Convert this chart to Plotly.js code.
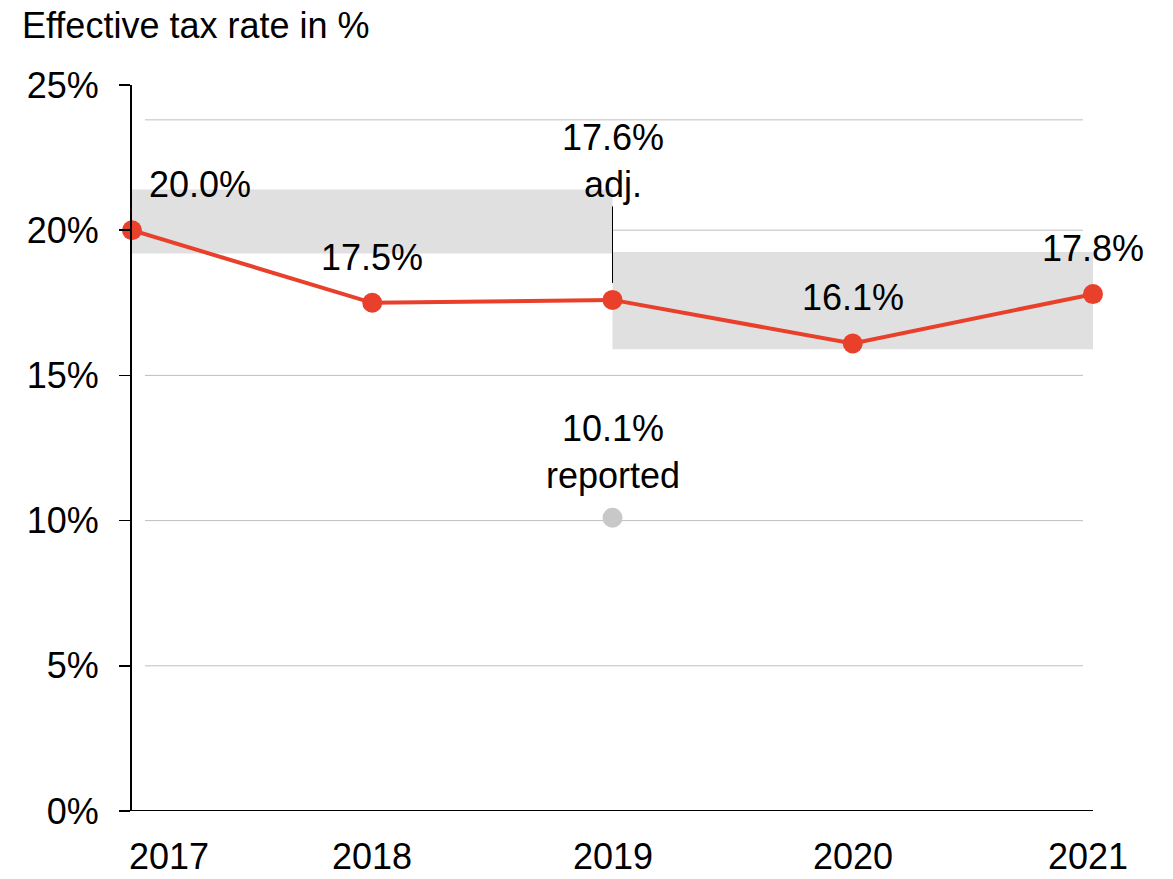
<!DOCTYPE html>
<html>
<head>
<meta charset="utf-8">
<script src="https://cdn.plot.ly/plotly-3.0.1.min.js"></script>
<style>
html,body{margin:0;padding:0;background:#fff;}
#chart{width:1173px;height:879px;}
</style>
</head>
<body>
<div id="chart"></div>
<script>
// ---- data ----
var years = [2017, 2018, 2019, 2020, 2021];
var yearLabels = ['2017', '2018', '2019', '2020', '2021'];
var adjustedRates = [20.0, 17.5, 17.6, 16.1, 17.8];
var adjustedLabels = ['20.0%', '17.5%', '17.6%<br>adj.', '16.1%', '17.8%'];
var reportedYears = [2019];
var reportedRates = [10.1];
var reportedLabels = ['10.1%<br>reported'];
var bandStart = [2017, 2019];
var bandEnd = [2019, 2021];
var bandLow = [19.2, 15.9];
var bandHigh = [21.4, 19.25];
var gridValues = [5, 10, 15, 20, 23.8];
var yTicks = [0, 5, 10, 15, 20, 25];
var yTickLabels = ['0%', '5%', '10%', '15%', '20%', '25%'];
var titleText = 'Effective tax rate in %';

// ---- styles ----
var FONT = '"Liberation Sans", Arial, sans-serif';
var RED = '#E8402A';
var GREY_DOT = '#C8C8C8';
var BAND = '#E0E0E0';
var GRID = '#BFBFBF';

var traces = [
  {
    x: years, y: adjustedRates, type: 'scatter', mode: 'lines+markers',
    line: {color: RED, width: 4},
    marker: {color: RED, size: 20},
    hoverinfo: 'skip', showlegend: false, cliponaxis: false
  },
  {
    x: reportedYears, y: reportedRates, type: 'scatter', mode: 'markers',
    marker: {color: GREY_DOT, size: 20},
    hoverinfo: 'skip', showlegend: false, cliponaxis: false
  }
];

var shapes = [];
for (var i = 0; i < bandStart.length; i++) {
  shapes.push({type: 'rect', xref: 'x', yref: 'y', x0: bandStart[i], x1: bandEnd[i],
    y0: bandLow[i], y1: bandHigh[i], fillcolor: BAND, line: {width: 0}, layer: 'below'});
}
for (var g = 0; g < gridValues.length; g++) {
  shapes.push({type: 'line', xref: 'paper', yref: 'y', x0: 13 / 961, x1: 951 / 961,
    y0: gridValues[g], y1: gridValues[g], line: {color: GRID, width: 1}, layer: 'below'});
}
// x axis baseline (extends left past the y axis like the reference)
shapes.push({type: 'line', xref: 'paper', yref: 'y', x0: -11 / 961, x1: 1,
  y0: 0, y1: 0, line: {color: '#000', width: 2}, layer: 'above'});

var annotations = [];
for (var k = 0; k < years.length; k++) {
  if (years[k] === 2019) {
    annotations.push({x: years[k], y: adjustedRates[k], xref: 'x', yref: 'y',
      text: adjustedLabels[k], showarrow: true, arrowhead: 0, arrowwidth: 1,
      arrowcolor: '#000', ax: 0, ay: -139, standoff: 17,
      font: {family: FONT, size: 36, color: '#000'}});
  } else {
    annotations.push({x: years[k], y: adjustedRates[k], xref: 'x', yref: 'y',
      text: adjustedLabels[k], showarrow: false,
      xanchor: k === 0 ? 'left' : 'center', xshift: k === 0 ? 15 : 0,
      yanchor: 'bottom', yshift: 23,
      font: {family: FONT, size: 36, color: '#000'}});
  }
}
for (var r = 0; r < reportedYears.length; r++) {
  annotations.push({x: reportedYears[r], y: reportedRates[r], xref: 'x', yref: 'y',
    text: reportedLabels[r], showarrow: false, xanchor: 'center',
    yanchor: 'bottom', yshift: 20,
    font: {family: FONT, size: 36, color: '#000'}});
}
// x-axis category labels (first one left-aligned, as in the reference)
for (var t = 0; t < years.length; t++) {
  annotations.push({x: years[t], y: 0, xref: 'x', yref: 'y',
    text: yearLabels[t], showarrow: false,
    xanchor: t === 0 ? 'left' : 'center', xshift: t === 0 ? -5 : (t === years.length - 1 ? -5 : 0),
    yanchor: 'top', yshift: -23,
    font: {family: FONT, size: 36, color: '#000'}});
}

var layout = {
  width: 1173, height: 879,
  margin: {l: 132, r: 80, t: 85, b: 68, pad: 0},
  paper_bgcolor: '#fff', plot_bgcolor: '#fff',
  font: {family: FONT, size: 36, color: '#000'},
  title: {text: titleText, x: 22 / 1173, xref: 'container', xanchor: 'left',
    y: 1 - 13 / 879, yref: 'container', yanchor: 'top',
    font: {family: FONT, size: 36, color: '#000'}},
  xaxis: {
    range: [2017, 2021], tickvals: years, showticklabels: false,
    showgrid: false, zeroline: false, showline: false, ticks: '',
    fixedrange: true
  },
  yaxis: {
    range: [0, 25], tickvals: yTicks, ticktext: yTickLabels,
    showgrid: false, zeroline: false, showline: true, linecolor: '#000', linewidth: 2,
    ticks: 'outside', ticklen: 11, tickwidth: 1.5, tickcolor: '#000',
    ticklabelstandoff: 13,
    tickfont: {family: FONT, size: 36, color: '#000'}, fixedrange: true
  },
  shapes: shapes,
  annotations: annotations,
  showlegend: false
};

Plotly.newPlot('chart', traces, layout, {displayModeBar: false, staticPlot: true});
</script>
</body>
</html>
